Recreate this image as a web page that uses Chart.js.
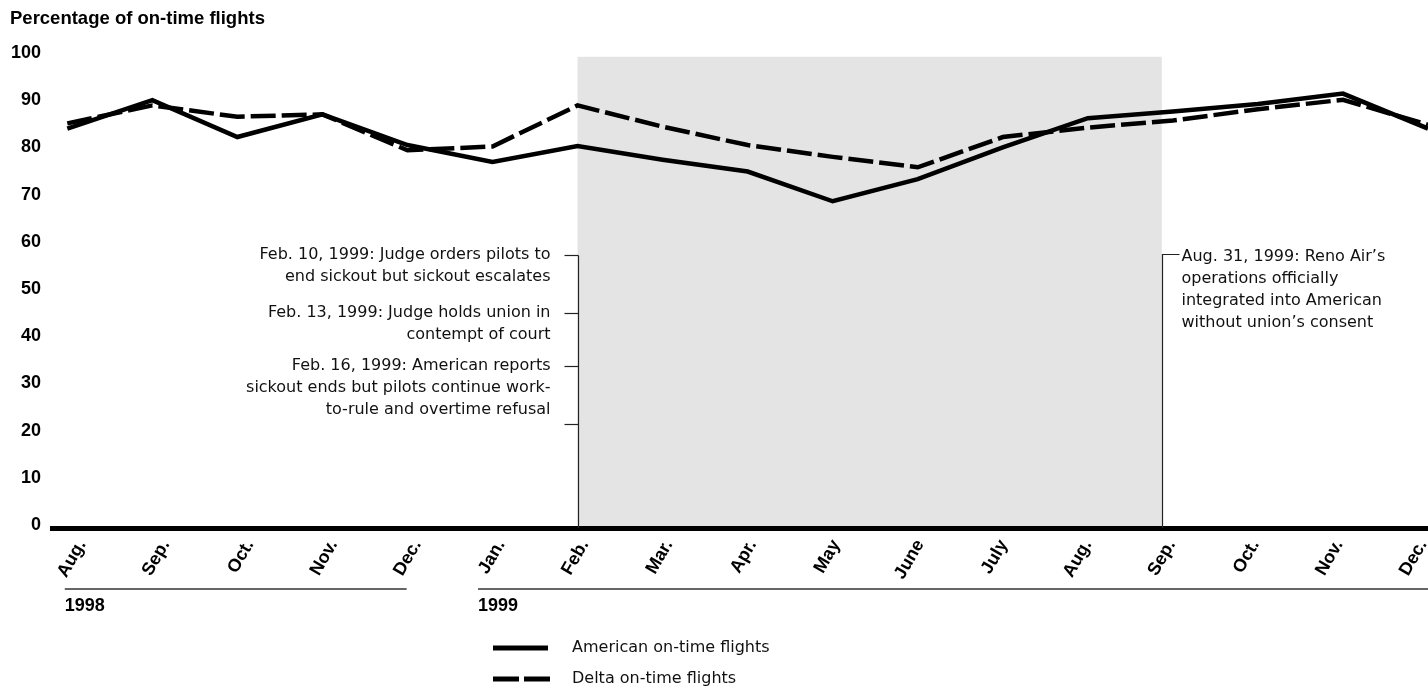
<!DOCTYPE html>
<html><head><meta charset="utf-8">
<script src="https://cdn.jsdelivr.net/npm/chart.js@4.4.1/dist/chart.umd.min.js"></script>
<style>html,body{margin:0;padding:0;background:#fff}</style>
</head><body>
<canvas id="c" width="1428" height="690"></canvas>
<script>
// ---- data ----
const months = ["Aug.","Sep.","Oct.","Nov.","Dec.","Jan.","Feb.","Mar.","Apr.","May","June","July","Aug.","Sep.","Oct.","Nov.","Dec."];
const american = [84.0, 90.0, 82.2, 87.0, 80.5, 76.9, 80.3, 77.4, 74.9, 68.6, 73.3, 80.0, 86.2, 87.6, 89.2, 91.4, 84.0];
const delta    = [85.1, 88.9, 86.5, 87.0, 79.4, 80.2, 88.9, 84.4, 80.5, 78.0, 75.8, 82.2, 84.2, 85.7, 88.1, 90.1, 84.8];
const yTicks = [0, 10, 20, 30, 40, 50, 60, 70, 80, 90, 100];
const yearLabels = ["1998", "1999"];
const yearSpans = [[-0.03, 3.99], [4.83, 16.2]];
const shadeStart = 6, shadeEnd = 12.87, shadeTop = 99.2;
const seriesNames = ["American on-time flights", "Delta on-time flights"];
const leftNotes = [
  {at: 57.2, lines: ["Feb. 10, 1999: Judge orders pilots to", "end sickout but sickout escalates"]},
  {at: 44.9, lines: ["Feb. 13, 1999: Judge holds union in", "contempt of court"]},
  {at: 33.7, lines: ["Feb. 16, 1999: American reports", "sickout ends but pilots continue work-", "to-rule and overtime refusal"]},
  {at: 21.4, lines: []}
];
const rightNote = {at: 57.4, lines: ["Aug. 31, 1999: Reno Air\u2019s", "operations officially", "integrated into American", "without union\u2019s consent"]};
const titleText = "Percentage of on-time flights";
// month labels sit on a slightly tighter pitch than the data points
const labelPitch = 0.9854, labelStart = 0.02;

const BOLD = 'bold 18px "Liberation Sans", Arial, Helvetica, sans-serif';
const REG = '16px "DejaVu Sans", "Liberation Sans", Arial, sans-serif';

const notes = {
  id: 'notes',
  beforeDraw(chart) {
    const {ctx, chartArea, scales: {x, y}} = chart;
    ctx.save();
    ctx.fillStyle = '#e4e4e4';
    const x0 = x.getPixelForValue(shadeStart), x1 = x.getPixelForValue(shadeEnd);
    const yt = y.getPixelForValue(shadeTop);
    ctx.fillRect(x0, yt, x1 - x0, chartArea.bottom - yt);
    ctx.restore();
  },
  afterDatasetsDraw(chart) {
    const {ctx, chartArea, scales: {x, y}} = chart;
    ctx.save();
    ctx.strokeStyle = '#222';
    ctx.lineWidth = 1.2;
    const fx = Math.round(x.getPixelForValue(shadeStart)) + 0.5;
    const ftop = Math.round(y.getPixelForValue(leftNotes[0].at)) + 0.5;
    ctx.beginPath(); ctx.moveTo(fx, ftop); ctx.lineTo(fx, chartArea.bottom); ctx.stroke();
    ctx.font = REG; ctx.fillStyle = '#111'; ctx.textBaseline = 'middle'; ctx.textAlign = 'right';
    leftNotes.forEach(n => {
      const py = Math.round(y.getPixelForValue(n.at)) + 0.5;
      ctx.beginPath(); ctx.moveTo(fx - 14, py); ctx.lineTo(fx, py); ctx.stroke();
      n.lines.forEach((t, i) => ctx.fillText(t, fx - 28, py - 1 + i * 22));
    });
    const sx = Math.round(x.getPixelForValue(shadeEnd)) + 0.5;
    const stop = Math.round(y.getPixelForValue(rightNote.at)) + 0.5;
    ctx.beginPath(); ctx.moveTo(sx, chartArea.bottom); ctx.lineTo(sx, stop); ctx.lineTo(sx + 17, stop); ctx.stroke();
    ctx.textAlign = 'left';
    rightNote.lines.forEach((t, i) => ctx.fillText(t, sx + 19, stop + 2 + i * 22));
    ctx.restore();
  },
  afterDraw(chart) {
    const {ctx, scales: {x}} = chart;
    ctx.save();
    ctx.font = 'bold 18.5px "Liberation Sans", Arial, sans-serif';
    ctx.fillStyle = '#000'; ctx.textBaseline = 'middle'; ctx.textAlign = 'left';
    ctx.fillText(titleText, 10, 19);
    ctx.strokeStyle = '#666'; ctx.lineWidth = 2;
    yearSpans.forEach((s, i) => {
      const a = x.getPixelForValue(s[0]);
      const b = Math.min(x.getPixelForValue(s[1]), 1428);
      ctx.beginPath(); ctx.moveTo(a, 589); ctx.lineTo(b, 589); ctx.stroke();
      ctx.font = BOLD; ctx.fillStyle = '#000';
      ctx.fillText(yearLabels[i], a, 606);
    });
    ctx.strokeStyle = '#000';
    ctx.lineWidth = 5;
    ctx.beginPath(); ctx.moveTo(493, 648); ctx.lineTo(548, 648); ctx.stroke();
    ctx.setLineDash([26, 5]);
    ctx.beginPath(); ctx.moveTo(493, 679); ctx.lineTo(550, 679); ctx.stroke();
    ctx.setLineDash([]);
    ctx.font = REG; ctx.fillStyle = '#111';
    ctx.fillText(seriesNames[0], 572, 648);
    ctx.fillText(seriesNames[1], 572, 679);
    ctx.restore();
  }
};

new Chart(document.getElementById('c'), {
  type: 'line',
  data: {
    datasets: [
      {label: seriesNames[0], data: american.map((v, i) => ({x: i, y: v})), borderColor: '#000', borderWidth: 4.5, pointRadius: 0, tension: 0},
      {label: seriesNames[1], data: delta.map((v, i) => ({x: i, y: v})), borderColor: '#000', borderWidth: 4.5, borderDash: [25, 6], pointRadius: 0, tension: 0}
    ]
  },
  options: {
    responsive: false,
    animation: false,
    devicePixelRatio: 1,
    layout: {padding: {top: 53, left: 0, right: 0, bottom: 0}},
    plugins: {legend: {display: false}, tooltip: {enabled: false}},
    scales: {
      x: {
        type: 'linear', min: -0.18, max: 16,
        afterBuildTicks: s => { s.ticks = months.map((m, i) => ({value: labelStart + i * labelPitch})); },
        afterFit: s => { s.height = 162; s.paddingLeft = 0; s.paddingRight = 0; },
        grid: {display: false, drawTicks: false},
        border: {display: true, color: '#000', width: 5},
        ticks: {
          autoSkip: false, minRotation: 60, maxRotation: 60, padding: 8, labelOffset: 13,
          color: '#000', font: {family: '"Liberation Sans", Arial, sans-serif', size: 18, weight: 'bold'},
          callback: (v, i) => months[i] ?? ''
        }
      },
      y: {
        min: -0.6, max: 100,
        afterBuildTicks: s => { s.ticks = yTicks.map(v => ({value: v})); },
        afterFit: s => { s.width = 52; s.paddingTop = 0; s.paddingBottom = 0; },
        grid: {display: false, drawTicks: false},
        border: {display: false},
        ticks: {padding: 11, color: '#000', font: {family: '"Liberation Sans", Arial, sans-serif', size: 18, weight: 'bold'}}
      }
    }
  },
  plugins: [notes]
});
</script>
</body></html>
